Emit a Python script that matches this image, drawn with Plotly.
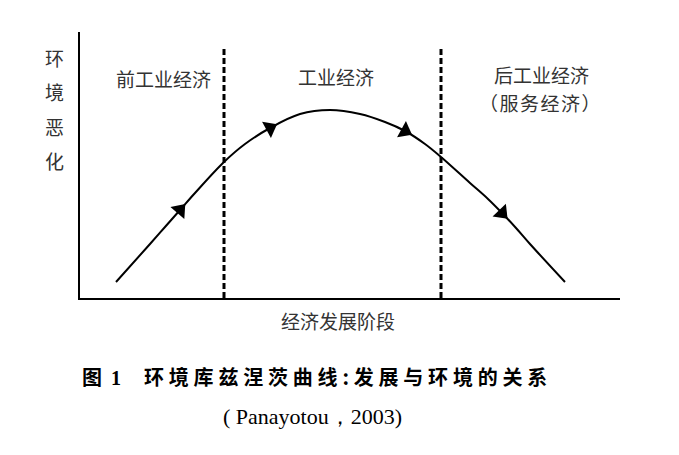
import numpy as np
import plotly.graph_objects as go

# ---- data (abstract units: x = economic development, y = environmental degradation)
curve_x = [36, 70, 85, 100, 115, 144, 165, 190, 220, 250, 280, 305, 325, 345, 361, 390, 408, 422, 436, 450, 485]
curve_y = [16, 54, 71, 88, 105, 136, 154, 170, 184, 188, 184, 176, 167, 154, 141, 115, 99, 85, 70, 54, 16]
arrow_idx = [3, 7, 12, 17]
stage_bounds = [144, 361]
stage_labels = ["前工业经济", "工业经济", "后工业经济"]
stage_sublabel = "（服务经济）"
y_title = "环境恶化"
x_title = "经济发展阶段"
fig_title_num = "图\u00a01"
fig_title = "环境库兹涅茨曲线:发展与环境的关系"
fig_source = "( Panayotou，2003)"

W, H = 679, 455
L, R, T, B = 80, 620, 32, 298  # plot area in pixels
XR = [0, R - L]
YR = [0, B - T]


def px(xp):
    return (xp - L) / (R - L)


def py(yp):
    return (B - yp) / (B - T)


fig = go.Figure()

fig.add_trace(go.Scatter(
    x=curve_x, y=curve_y, mode="lines",
    line=dict(color="black", width=2, shape="spline", smoothing=1),
    hoverinfo="skip", showlegend=False,
))

cx = np.array(curve_x, dtype=float)
cy = np.array(curve_y, dtype=float)
angles = []
for k in arrow_idx:
    dx = cx[k + 1] - cx[k - 1]
    dy = cy[k + 1] - cy[k - 1]
    angles.append(float(np.degrees(np.arctan2(dx, dy))))

fig.add_trace(go.Scatter(
    x=[curve_x[k] for k in arrow_idx], y=[curve_y[k] for k in arrow_idx],
    mode="markers",
    marker=dict(symbol="triangle-up", size=16, color="black", angle=angles,
                line=dict(width=0)),
    hoverinfo="skip", showlegend=False,
))

for xb in stage_bounds:
    fig.add_shape(type="line", xref="x", yref="y", x0=xb, x1=xb, y0=0, y1=250,
                  line=dict(color="black", width=3, dash="6px,3px"))

label_font = dict(family="Noto Sans CJK SC", size=19, color="#333333")
ann = []
stage_pos = [(163, 78), (336, 76), (541, 74)]
for lab, (xp, yp) in zip(stage_labels, stage_pos):
    ann.append(dict(x=px(xp), y=py(yp), xref="paper", yref="paper", text=lab,
                    showarrow=False, font=label_font, xanchor="center", yanchor="middle"))
ann.append(dict(x=px(540), y=py(103), xref="paper", yref="paper",
                text="<span style='letter-spacing:1.5px'>" + stage_sublabel + "</span>",
                showarrow=False, font=label_font, xanchor="center", yanchor="middle"))

for i, ch in enumerate(y_title):
    ann.append(dict(x=px(54), y=py(57 + i * 34.5), xref="paper", yref="paper", text=ch,
                    showarrow=False, font=label_font, xanchor="center", yanchor="middle"))

ann.append(dict(x=px(338), y=py(320), xref="paper", yref="paper", text=x_title,
                showarrow=False, font=label_font, xanchor="center", yanchor="middle"))

title_font = dict(family="Noto Sans CJK SC", size=20, color="black")
ann.append(dict(x=px(80), y=py(376), xref="paper", yref="paper",
                text="<b>图\u00a0\u00a0</b><span style='font-family:Liberation Serif'><b>1</b></span>",
                showarrow=False, font=title_font, xanchor="left", yanchor="middle"))
ann.append(dict(x=px(142), y=py(376), xref="paper", yref="paper",
                text="<span style='letter-spacing:4.8px'><b>" + fig_title + "</b></span>",
                showarrow=False, font=title_font, xanchor="left", yanchor="middle"))
ann.append(dict(x=px(312), y=py(416), xref="paper", yref="paper", text=fig_source,
                showarrow=False, font=dict(family="Liberation Serif", size=22, color="black"),
                xanchor="center", yanchor="middle"))

fig.update_layout(
    width=W, height=H,
    margin=dict(l=L, r=W - R, t=T, b=H - B, pad=0),
    paper_bgcolor="white", plot_bgcolor="white",
    xaxis=dict(range=XR, showline=True, linecolor="black", linewidth=2,
               showgrid=False, zeroline=False, showticklabels=False, ticks="", fixedrange=True),
    yaxis=dict(range=YR, showline=True, linecolor="black", linewidth=2,
               showgrid=False, zeroline=False, showticklabels=False, ticks="", fixedrange=True),
    annotations=ann,
    showlegend=False,
)

fig.write_html("out.html", config={"displayModeBar": False})
